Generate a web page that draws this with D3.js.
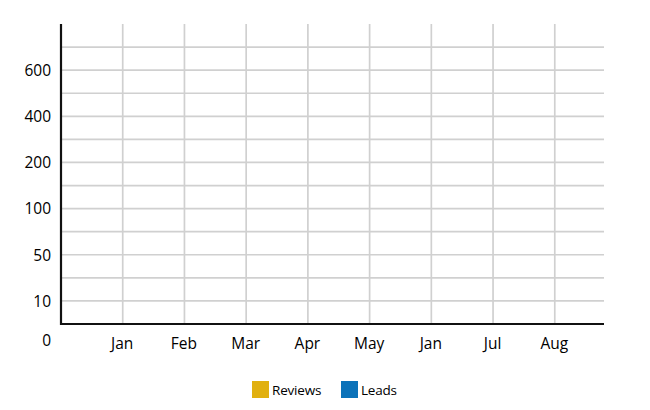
<!DOCTYPE html>
<html>
<head>
<meta charset="utf-8">
<script src="https://cdn.jsdelivr.net/npm/d3@7"></script>
<style>
  html, body { margin: 0; padding: 0; background: #fff; }
  svg { display: block; font-family: "Open Sans", "Noto Sans", sans-serif; }
</style>
</head>
<body>
<svg id="chart" width="650" height="410"></svg>
<script>
// ---- data ----
const months = ["Jan", "Feb", "Mar", "Apr", "May", "Jan", "Jul", "Aug"];
const yTickLabels = ["0", "10", "50", "100", "200", "400", "600"];
const seriesNames = ["Reviews", "Leads"];
const seriesColors = ["#e1b00f", "#0b72b9"];
// no visible marks in the reference: every value sits on the baseline
const reviews = [0, 0, 0, 0, 0, 0, 0, 0];
const leads = [0, 0, 0, 0, 0, 0, 0, 0];

// ---- layout ----
const svg = d3.select("#chart");
const left = 61, right = 604, axisTop = 24, baseline = 324;

const x = d3.scalePoint()
  .domain(d3.range(months.length))
  .range([left, 616.5])
  .padding(1);

// y: tick-index scale (categorical value ticks, evenly spaced)
const y = d3.scaleLinear()
  .domain([0.5, 7])
  .range([baseline, axisTop]);

const grid = svg.append("g").attr("stroke", "#d0d0d0").attr("stroke-width", 1.7);

// horizontal gridlines every half tick
const hLines = d3.range(1, 6.51, 0.5);
grid.selectAll("line.h").data(hLines).join("line")
  .attr("class", "h")
  .attr("x1", left).attr("x2", right)
  .attr("y1", d => y(d)).attr("y2", d => y(d));

// vertical gridlines at each month
grid.selectAll("line.v").data(x.domain()).join("line")
  .attr("class", "v")
  .attr("x1", d => x(d)).attr("x2", d => x(d))
  .attr("y1", y(7)).attr("y2", baseline);

// bars (zero height)
const bw = 18;
svg.append("g").selectAll("rect.r").data(reviews).join("rect")
  .attr("x", (d, i) => x(i) - bw)
  .attr("y", d => y(0.5))
  .attr("width", bw)
  .attr("height", 0)
  .attr("fill", seriesColors[0]);
svg.append("g").selectAll("rect.l").data(leads).join("rect")
  .attr("x", (d, i) => x(i))
  .attr("y", d => y(0.5))
  .attr("width", bw)
  .attr("height", 0)
  .attr("fill", seriesColors[1]);

// axes lines
svg.append("line")
  .attr("x1", left).attr("x2", left)
  .attr("y1", y(7)).attr("y2", baseline + 1)
  .attr("stroke", "#111").attr("stroke-width", 2.2);
svg.append("line")
  .attr("x1", left - 1).attr("x2", right)
  .attr("y1", baseline).attr("y2", baseline)
  .attr("stroke", "#111").attr("stroke-width", 2.2);

// y tick labels
const yAxis = d3.axisLeft(y)
  .tickValues(d3.range(yTickLabels.length))
  .tickFormat(i => yTickLabels[i])
  .tickSize(0)
  .tickPadding(0);
const gy = svg.append("g").attr("transform", `translate(${left - 10},0)`).call(yAxis);
gy.select(".domain").remove();
gy.selectAll("text")
  .attr("font-size", 15.5)
  .attr("font-family", "'Open Sans', sans-serif")
  .attr("fill", "#000")
  .attr("dy", (d, i) => i === 0 ? "-0.12em" : "0.34em");

// x tick labels
const xAxis = d3.axisBottom(x)
  .tickFormat(i => months[i])
  .tickSize(0)
  .tickPadding(0);
const gx = svg.append("g").attr("transform", `translate(-1,${baseline + 14})`).call(xAxis);
gx.select(".domain").remove();
gx.selectAll("text")
  .attr("font-size", 15.5)
  .attr("font-family", "'Open Sans', sans-serif")
  .attr("fill", "#000")
  .attr("dy", "0.71em");

// legend
const legend = svg.append("g").attr("transform", "translate(252,381)");
const legendOffsets = [0, 89];
const items = legend.selectAll("g").data(seriesNames).join("g")
  .attr("transform", (d, i) => `translate(${legendOffsets[i]},0)`);
items.append("rect")
  .attr("width", 17).attr("height", 17)
  .attr("fill", (d, i) => seriesColors[i]);
items.append("text")
  .attr("x", 20).attr("y", 9)
  .attr("dy", "0.35em")
  .attr("font-size", 13.5)
  .attr("font-family", "'Open Sans', sans-serif")
  .attr("letter-spacing", "-0.2px")
  .attr("fill", "#000")
  .text(d => d);
</script>
</body>
</html>
